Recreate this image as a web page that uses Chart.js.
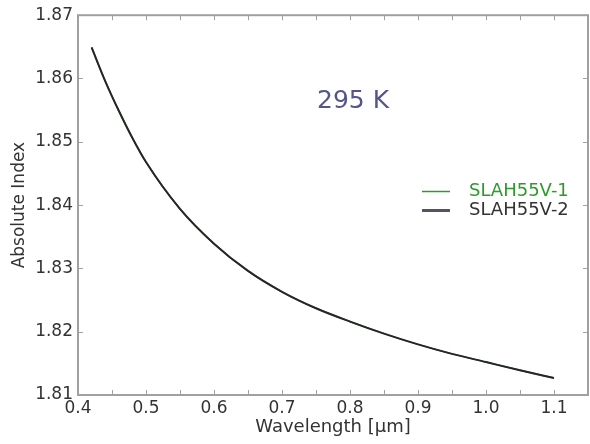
<!DOCTYPE html>
<html>
<head>
<meta charset="utf-8">
<script src="https://cdn.jsdelivr.net/npm/chart.js@4/dist/chart.umd.min.js"></script>
<style>
  html, body { margin: 0; padding: 0; background: #fff; }
  #wrap { width: 590px; height: 444px; }
</style>
</head>
<body>
<div id="wrap"><canvas id="myChart" width="590" height="444"></canvas></div>
<script>
// wavelength in micrometres
const wavelength = [0.42, 0.44, 0.46, 0.48, 0.50, 0.55, 0.60, 0.65, 0.70, 0.75, 0.80, 0.85, 0.90, 0.95, 1.00, 1.05, 1.10];
// both runs sit on top of each other
const slah55v1 = [1.8649, 1.8596, 1.8549, 1.8506, 1.8468, 1.8394, 1.8339, 1.8296, 1.8263, 1.8237, 1.8216, 1.8197, 1.8180, 1.8165, 1.8152, 1.8139, 1.8127];
const slah55v2 = [1.8649, 1.8596, 1.8549, 1.8506, 1.8468, 1.8394, 1.8339, 1.8296, 1.8263, 1.8237, 1.8216, 1.8197, 1.8180, 1.8165, 1.8152, 1.8139, 1.8127];
const seriesNames = ['SLAH55V-1', 'SLAH55V-2'];
const xTicks = [0.4, 0.5, 0.6, 0.7, 0.8, 0.9, 1.0, 1.1];
const xMinorTicks = [0.45, 0.55, 0.65, 0.75, 0.85, 0.95, 1.05];
const yTicks = [1.81, 1.82, 1.83, 1.84, 1.85, 1.86, 1.87];
const tempLabel = '295 K';

const font = 'DejaVu Sans';
const frameColor = '#a0a0a0';

function toPoints(xs, ys) {
  let pts = [];
  for (let i = 0; i < xs.length; i++) {
    pts.push({ x: xs[i], y: ys[i] });
  }
  return pts;
}

// frame, inward ticks, temperature label and legend
const decorations = {
  id: 'decorations',
  afterDraw(chart) {
    const ctx = chart.ctx;
    const a = chart.chartArea;
    const xs = chart.scales.x;
    const ys = chart.scales.y;
    ctx.save();
    ctx.strokeStyle = frameColor;
    ctx.lineWidth = 1;
    const tl = 5;
    ctx.beginPath();
    xTicks.concat(xMinorTicks).forEach(function (v) {
      const px = Math.round(xs.getPixelForValue(v)) + 0.5;
      ctx.moveTo(px, a.bottom); ctx.lineTo(px, a.bottom - tl);
      ctx.moveTo(px, a.top); ctx.lineTo(px, a.top + tl);
    });
    yTicks.forEach(function (v) {
      const py = Math.round(ys.getPixelForValue(v)) + 0.5;
      ctx.moveTo(a.left, py); ctx.lineTo(a.left + tl, py);
      ctx.moveTo(a.right, py); ctx.lineTo(a.right - tl, py);
    });
    ctx.stroke();
    ctx.lineWidth = 2;
    ctx.strokeRect(a.left, a.top, a.right - a.left, a.bottom - a.top);

    ctx.fillStyle = '#55558a';
    ctx.font = '25px "' + font + '"';
    ctx.textAlign = 'left';
    ctx.textBaseline = 'middle';
    ctx.fillText(tempLabel, 317, 101);

    // legend, no frame
    ctx.font = '18px "' + font + '"';
    const rows = [191, 210];
    const sample = [{ c: '#2e9a2e', w: 1.5 }, { c: '#575160', w: 3 }];
    chart.data.datasets.forEach(function (ds, i) {
      ctx.strokeStyle = sample[i].c;
      ctx.lineWidth = sample[i].w;
      ctx.beginPath();
      ctx.moveTo(422, rows[i] + 0.5);
      ctx.lineTo(450, rows[i] + 0.5);
      ctx.stroke();
      ctx.fillStyle = i === 0 ? '#2e9a2e' : '#333';
      ctx.fillText(ds.label, 469, rows[i]);
    });
    ctx.restore();
  }
};

const ctx = document.getElementById('myChart').getContext('2d');
const chart = new Chart(ctx, {
  type: 'scatter',
  data: {
    datasets: [{
      label: seriesNames[0],
      data: toPoints(wavelength, slah55v1),
      showLine: true,
      borderColor: '#2e9a2e',
      borderWidth: 1.5,
      pointRadius: 0,
      cubicInterpolationMode: 'monotone',
      order: 2
    }, {
      label: seriesNames[1],
      data: toPoints(wavelength, slah55v2),
      showLine: true,
      borderColor: '#262626',
      borderWidth: 2,
      pointRadius: 0,
      cubicInterpolationMode: 'monotone',
      order: 1
    }]
  },
  options: {
    responsive: false,
    animation: false,
    layout: { padding: { top: 15, right: 2, left: 0, bottom: 0 } },
    plugins: { legend: { display: false }, tooltip: { enabled: false } },
    scales: {
      x: {
        type: 'linear',
        min: 0.4,
        max: 1.15,
        afterBuildTicks: function (scale) { scale.ticks = xTicks.map(v => ({ value: v })); },
        afterFit: function (scale) { scale.height = 49; },
        grid: { display: false, drawTicks: false },
        border: { display: false },
        ticks: {
          color: '#333',
          font: { family: font, size: 17 },
          padding: 3,
          maxRotation: 0,
          autoSkip: false,
          callback: v => v.toFixed(1)
        },
        title: {
          display: true,
          text: 'Wavelength [μm]',
          color: '#333',
          font: { family: font, size: 18 },
          padding: { top: 0, bottom: 6 }
        }
      },
      y: {
        min: 1.81,
        max: 1.87,
        afterBuildTicks: function (scale) { scale.ticks = yTicks.map(v => ({ value: v })); },
        afterFit: function (scale) { scale.width = 78; },
        grid: { display: false, drawTicks: false },
        border: { display: false },
        ticks: {
          color: '#333',
          font: { family: font, size: 17 },
          padding: 5,
          autoSkip: false,
          callback: v => v.toFixed(2)
        },
        title: {
          display: true,
          text: 'Absolute Index',
          color: '#333',
          font: { family: font, size: 17 },
          padding: { top: 9, bottom: 0 }
        }
      }
    }
  },
  plugins: [decorations]
});
</script>
</body>
</html>
